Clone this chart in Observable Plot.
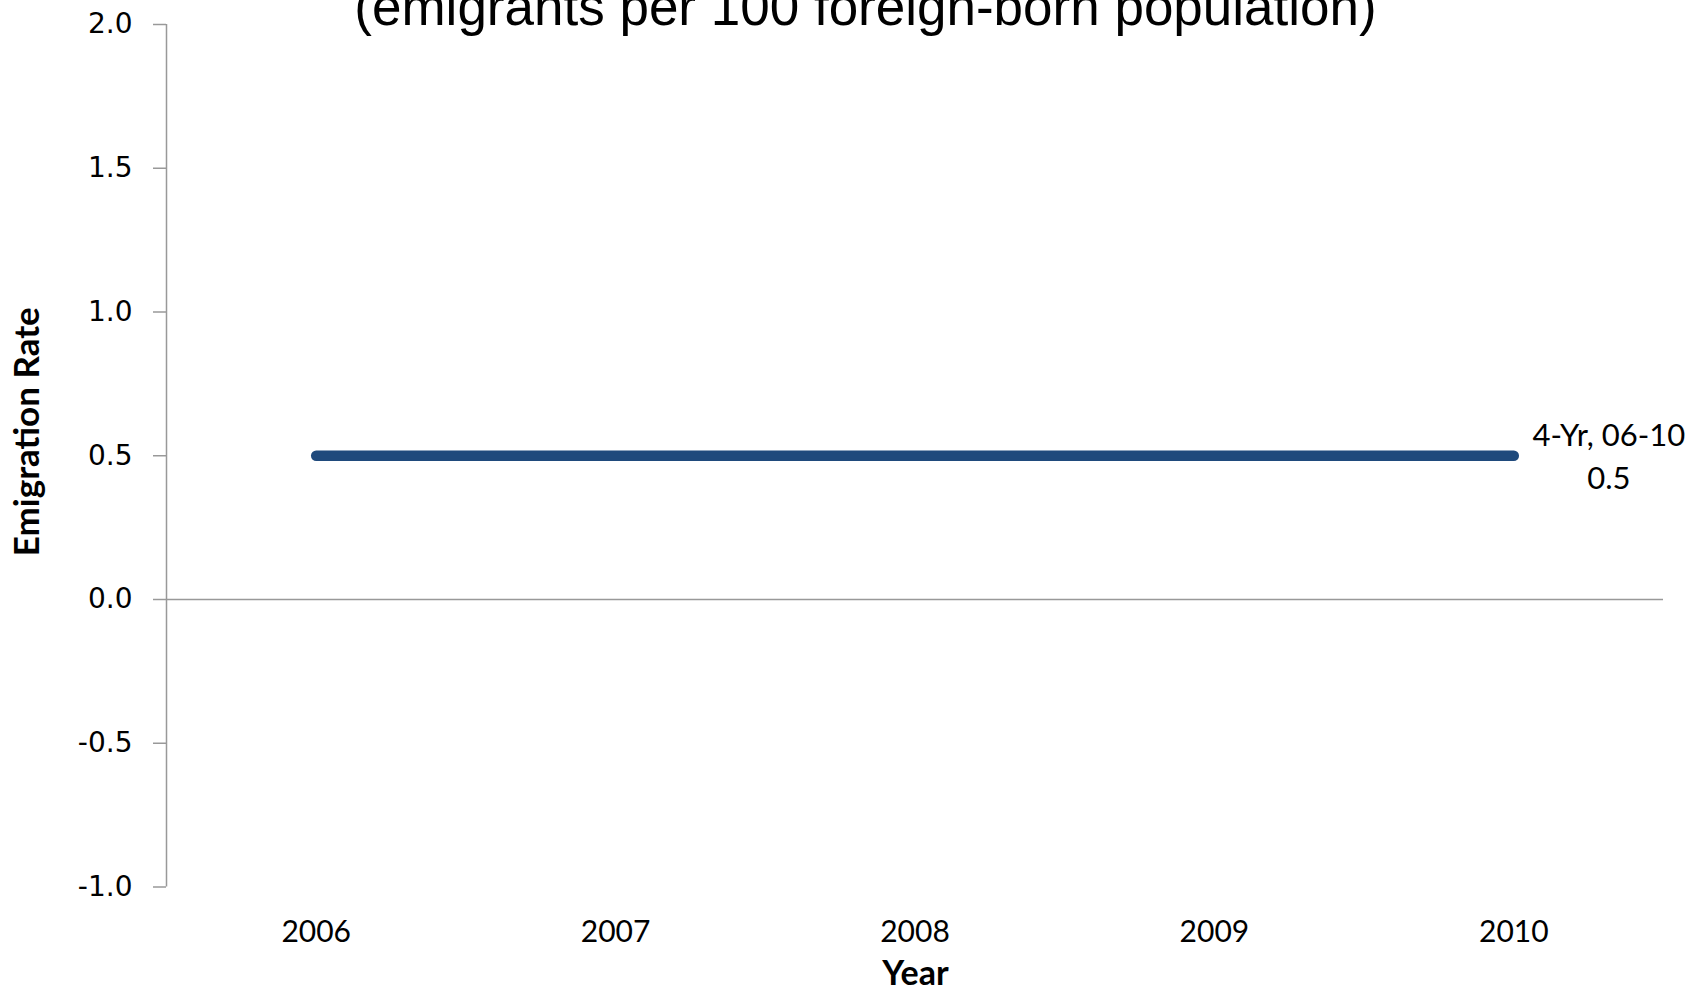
<!DOCTYPE html>
<html>
<head>
<meta charset="utf-8">
<script src="https://cdn.jsdelivr.net/npm/d3@7"></script>
<script src="https://cdn.jsdelivr.net/npm/@observablehq/plot@0.6"></script>
<style>
  html, body { margin: 0; padding: 0; background: white; }
  #chart { width: 1702px; height: 993px; overflow: hidden; }
</style>
</head>
<body>
<div id="chart"></div>
<script>
const years = [2006, 2007, 2008, 2009, 2010];
const rates = [0.5, 0.5, 0.5, 0.5, 0.5];
const yTicks = [-1, -0.5, 0, 0.5, 1, 1.5, 2];
const seriesLabel = "4-Yr, 06-10";
const titleText = "(emigrants per 100 foreign-born population)";
const yTitle = "Emigration Rate";
const xTitle = "Year";

const data = years.map((y, i) => ({year: y, rate: rates[i]}));
const last = data[data.length - 1];

const axisGray = "#999999";
const lineBlue = "#1F4A7C";

const chart = Plot.plot({
  width: 1702,
  height: 993,
  marginLeft: 166,
  marginRight: 39,
  marginTop: 24,
  marginBottom: 106.5,
  style: {background: "white", overflow: "visible"},
  x: {domain: [years[0] - 0.5, years[years.length - 1] + 0.5]},
  y: {domain: [yTicks[0], yTicks[yTicks.length - 1]]},
  marks: [
    Plot.ruleX([years[0] - 0.5], {stroke: axisGray, strokeWidth: 1.5}),
    Plot.ruleY([0], {stroke: axisGray, strokeWidth: 1.5}),
    Plot.axisY({
      ticks: yTicks, tickSize: 13, tickPadding: 21,
      tickFormat: d => d.toFixed(1),
      stroke: axisGray, strokeWidth: 1.5, fill: "black",
      fontSize: 28, fontFamily: "DejaVu Sans", label: null
    }),
    Plot.axisX({
      ticks: years, tickSize: 0, tickPadding: 34,
      tickFormat: d => String(d),
      fill: "black", fontSize: 30, fontFamily: "Lato", label: null
    }),
    Plot.lineY(data, {
      x: "year", y: "rate", stroke: lineBlue, strokeWidth: 10.5,
      strokeLinecap: "round", strokeLinejoin: "round"
    }),
    Plot.text([last], {
      x: "year", y: "rate",
      text: d => `${seriesLabel}\n${d.rate.toFixed(1)}`,
      dx: 95, dy: -2, lineHeight: 1.38, textAnchor: "middle", lineAnchor: "middle",
      fontSize: 31, fontFamily: "Lato", fill: "black"
    }),
    Plot.text([titleText], {
      frameAnchor: "top", dx: 865 - (166 + (1702 - 39 - 166) / 2), dy: 0,
      lineAnchor: "bottom", fontSize: 53, fontFamily: "Liberation Sans, Arial", fill: "black"
    }),
    Plot.text([yTitle], {
      frameAnchor: "left", rotate: -90, dx: 27 - 166, dy: -24,
      lineAnchor: "middle", textAnchor: "middle",
      fontSize: 35, fontWeight: "bold", fontFamily: "Lato", fill: "black"
    }),
    Plot.text([xTitle], {
      frameAnchor: "bottom", dx: 915 - (166 + (1702 - 39 - 166) / 2), dy: 87,
      lineAnchor: "middle", textAnchor: "middle",
      fontSize: 34, fontWeight: "bold", fontFamily: "Lato", fill: "black"
    })
  ]
});
document.getElementById("chart").appendChild(chart);
</script>
</body>
</html>
